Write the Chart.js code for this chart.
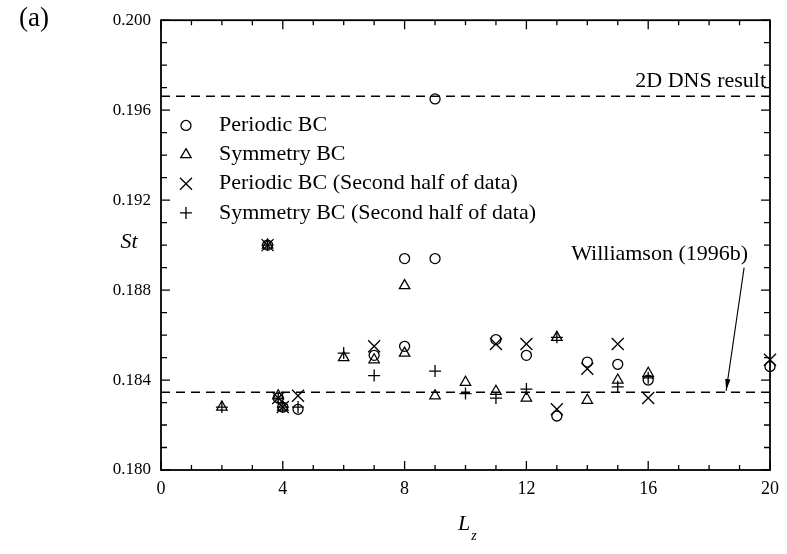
<!DOCTYPE html>
<html>
<head>
<meta charset="utf-8">
<script src="https://cdn.jsdelivr.net/npm/chart.js@4/dist/chart.umd.min.js"></script>
<style>
  html, body { margin: 0; padding: 0; background: #fff; }
  #wrap { width: 787px; height: 554px; }
</style>
</head>
<body>
<div id="wrap"><canvas id="chart"></canvas></div>
<script>
/* St vs Lz — periodic / symmetry boundary conditions */

const xTicks = [0, 4, 8, 12, 16, 20];
const yTicks = [0.180, 0.184, 0.188, 0.192, 0.196, 0.200];

const periodicX = [3.5, 3.85, 4.0, 4.5, 7, 8, 8, 9, 9, 11, 12, 13, 14, 15, 16, 20];
const periodicY = [0.1900, 0.1832, 0.1828, 0.1827, 0.1851, 0.1894, 0.1855, 0.1894, 0.1965, 0.1858, 0.1851, 0.1824, 0.1848, 0.1847, 0.1840, 0.1846];

const symmetryX = [2, 3.5, 3.85, 4.0, 6, 7, 8, 8, 9, 10, 11, 12, 13, 14, 15, 16];
const symmetryY = [0.1828, 0.1900, 0.1833, 0.1828, 0.1850, 0.1849, 0.1882, 0.1852, 0.1833, 0.1839, 0.1835, 0.1832, 0.1859, 0.1831, 0.1840, 0.1843];

const periodic2X = [3.5, 3.85, 4.0, 4.5, 7, 11, 12, 13, 14, 15, 16, 20];
const periodic2Y = [0.1900, 0.1832, 0.1828, 0.1833, 0.1855, 0.1856, 0.1856, 0.1827, 0.1845, 0.1856, 0.1832, 0.1849];

const symmetry2X = [2, 3.5, 3.85, 4.0, 4.5, 6, 7, 9, 10, 11, 12, 13, 15, 16];
const symmetry2Y = [0.1828, 0.1900, 0.1832, 0.1828, 0.1828, 0.1852, 0.1842, 0.1844, 0.1834, 0.1832, 0.1836, 0.1859, 0.1837, 0.1841];

const dnsSt = 0.19662;
const williamsonSt = 0.18346;

const legendLabels = ['Periodic BC', 'Symmetry BC', 'Periodic BC (Second half of data)', 'Symmetry BC (Second half of data)'];

const SERIF = "'Liberation Serif', 'DejaVu Serif', serif";
const pts = (xs, ys) => xs.map((x, i) => ({ x, y: ys[i] }));

function markerSet(label, xs, ys, style, radius) {
  return {
    type: 'scatter', label, data: pts(xs, ys),
    pointStyle: style, pointRadius: radius, pointHoverRadius: radius,
    borderColor: '#000', backgroundColor: 'rgba(0,0,0,0)', pointBorderWidth: 1.3,
    clip: false,
  };
}

function hLine(y) {
  return {
    type: 'line', data: [{ x: 0, y }, { x: 20, y }],
    borderColor: '#000', borderWidth: 1.6, borderDash: [9, 6],
    pointRadius: 0, fill: false,
  };
}

/* ── frame, inward ticks, texts ── */
const decor = {
  id: 'decor',
  afterDatasetsDraw(chart) {
    const { ctx, chartArea: a, scales: { x, y } } = chart;
    ctx.save();
    ctx.strokeStyle = '#000';
    ctx.fillStyle = '#000';

    // frame
    ctx.lineWidth = 1.8;
    ctx.strokeRect(a.left, a.top, a.right - a.left, a.bottom - a.top);

    // ticks pointing inward, on all four sides
    ctx.lineWidth = 1.3;
    ctx.beginPath();
    for (let v = 0; v <= 20; v++) {
      const px = x.getPixelForValue(v);
      const len = v % 4 === 0 ? 9 : 5;
      ctx.moveTo(px, a.bottom); ctx.lineTo(px, a.bottom - len);
      ctx.moveTo(px, a.top);    ctx.lineTo(px, a.top + len);
    }
    for (let k = 0; k <= 20; k++) {
      const py = y.getPixelForValue(0.180 + k * 0.001);
      const len = k % 4 === 0 ? 9 : 6;
      ctx.moveTo(a.left, py);  ctx.lineTo(a.left + len, py);
      ctx.moveTo(a.right, py); ctx.lineTo(a.right - len, py);
    }
    ctx.stroke();

    // legend
    const rowsY = [0.19532, 0.19402, 0.19273, 0.19143];
    const styles = ['circle', 'triangle', 'crossRot', 'cross'];
    const radii = [5, 6, 8.5, 6];
    const mx = x.getPixelForValue(0.82);
    ctx.font = '22px ' + SERIF;
    ctx.textBaseline = 'middle';
    ctx.textAlign = 'left';
    rowsY.forEach((v, i) => {
      const py = y.getPixelForValue(v);
      ctx.fillStyle = 'rgba(0,0,0,0)';
      ctx.lineWidth = 1.3;
      Chart.helpers.drawPoint(ctx, { pointStyle: styles[i], radius: radii[i], borderWidth: 1.3 }, mx, py);
      ctx.fillStyle = '#000';
      ctx.fillText(legendLabels[i], mx + 33, py);
    });

    // annotations
    ctx.textAlign = 'right';
    ctx.fillText('2D DNS result', x.getPixelForValue(19.87), y.getPixelForValue(0.1973));
    ctx.textAlign = 'left';
    ctx.fillText('Williamson (1996b)', x.getPixelForValue(13.47), y.getPixelForValue(0.1896));

    // arrow to Williamson line
    const x0 = x.getPixelForValue(19.15), y0 = y.getPixelForValue(0.18900);
    const x1 = x.getPixelForValue(18.56), y1 = y.getPixelForValue(0.18352);
    const ang = Math.atan2(y1 - y0, x1 - x0);
    ctx.lineWidth = 1.1;
    ctx.beginPath(); ctx.moveTo(x0, y0); ctx.lineTo(x1, y1); ctx.stroke();
    ctx.beginPath();
    ctx.moveTo(x1, y1);
    ctx.lineTo(x1 - 12 * Math.cos(ang - 0.22), y1 - 12 * Math.sin(ang - 0.22));
    ctx.lineTo(x1 - 12 * Math.cos(ang + 0.22), y1 - 12 * Math.sin(ang + 0.22));
    ctx.closePath(); ctx.fill();

    // panel label and axis titles
    ctx.font = '27px ' + SERIF;
    ctx.fillText('(a)', 19, 19);
    ctx.font = 'italic 22px ' + SERIF;
    ctx.textAlign = 'center';
    ctx.fillText('St', 129, 242);
    ctx.fillText('L', 464, 524);
    ctx.font = 'italic 14px ' + SERIF;
    ctx.fillText('z', 474, 536);
    ctx.restore();
  },
};

new Chart(document.getElementById('chart'), {
  data: {
    datasets: [
      hLine(dnsSt),
      hLine(williamsonSt),
      markerSet(legendLabels[0], periodicX, periodicY, 'circle', 5),
      markerSet(legendLabels[1], symmetryX, symmetryY, 'triangle', 6),
      markerSet(legendLabels[2], periodic2X, periodic2Y, 'crossRot', 8.5),
      markerSet(legendLabels[3], symmetry2X, symmetry2Y, 'cross', 6),
    ],
  },
  options: {
    responsive: true,
    maintainAspectRatio: false,
    animation: false,
    events: [],
    layout: { padding: { left: 0, right: 13, top: 15, bottom: 0 } },
    plugins: { legend: { display: false }, tooltip: { enabled: false } },
    scales: {
      x: {
        type: 'linear', min: 0, max: 20,
        afterFit: s => { s.height = 84; },
        afterBuildTicks: s => { s.ticks = xTicks.map(v => ({ value: v })); },
        grid: { display: false, drawTicks: false },
        border: { display: false },
        ticks: { color: '#000', padding: 8, font: { family: SERIF, size: 18 } },
      },
      y: {
        type: 'linear', min: 0.180, max: 0.200,
        afterFit: s => { s.width = 161; },
        afterBuildTicks: s => { s.ticks = yTicks.map(v => ({ value: v })); },
        grid: { display: false, drawTicks: false },
        border: { display: false },
        ticks: { color: '#000', padding: 10, font: { family: SERIF, size: 17 }, callback: v => v.toFixed(3) },
      },
    },
  },
  plugins: [decor],
});
</script>
</body>
</html>
